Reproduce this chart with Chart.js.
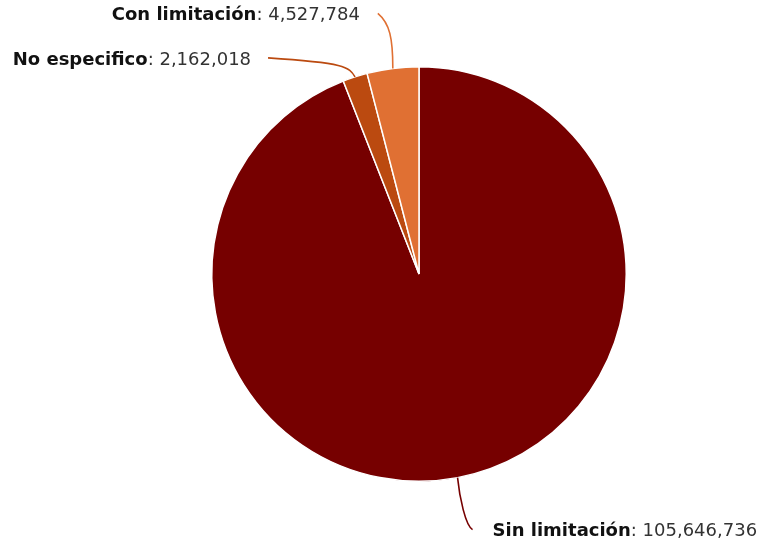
<!DOCTYPE html>
<html>
<head>
<meta charset="utf-8">
<script src="https://cdn.jsdelivr.net/npm/chart.js@4"></script>
<style>
  html, body { margin: 0; padding: 0; background: #fff; }
  #wrap { width: 761px; height: 546px; }
</style>
</head>
<body>
<div id="wrap"><canvas id="pieChart"></canvas></div>
<script>
const categories = ['Sin limitación', 'No especifico', 'Con limitación'];
const values = [105646736, 2162018, 4527784];
const sliceColors = ['#760000', '#bb4a10', '#e07033'];

// where each label sits relative to its slice edge, and how the connector bends
const labelLayout = [
    { dx: 35, dy: 54, align: 'left', c1: [2, 20], c2: [8, 48], end: [15, 52] },
    { dx: -104, dy: -17, align: 'right', c1: [-6, -10], c2: [-10, -14], end: [-87, -19] },
    { dx: -33, dy: -53, align: 'right', c1: [0, -30], c2: [-3, -45], end: [-15, -55] }
];

const fmt = n => n.toLocaleString('en-US');

const leaderLabels = {
    id: 'leaderLabels',
    afterDatasetsDraw(chart) {
        const ctx = chart.ctx;
        const arcs = chart.getDatasetMeta(0).data;
        arcs.forEach(function (arc, i) {
            const p = arc.getProps(['x', 'y', 'startAngle', 'endAngle', 'outerRadius'], true);
            const mid = (p.startAngle + p.endAngle) / 2;
            const ax = p.x + Math.cos(mid) * p.outerRadius;
            const ay = p.y + Math.sin(mid) * p.outerRadius;
            const lay = labelLayout[i];

            ctx.save();
            ctx.strokeStyle = sliceColors[i];
            ctx.lineWidth = 1.6;
            ctx.beginPath();
            ctx.moveTo(ax, ay);
            ctx.bezierCurveTo(ax + lay.c1[0], ay + lay.c1[1], ax + lay.c2[0], ay + lay.c2[1], ax + lay.end[0], ay + lay.end[1]);
            ctx.stroke();

            const tx = ax + lay.dx;
            const ty = ay + lay.dy;
            const name = categories[i];
            const val = ': ' + fmt(values[i]);
            const boldFont = 'bold 18px "DejaVu Sans"';
            const normFont = '18px "DejaVu Sans"';
            ctx.font = boldFont;
            const wName = ctx.measureText(name).width;
            ctx.font = normFont;
            const wVal = ctx.measureText(val).width;
            const x0 = lay.align === 'right' ? tx - wName - wVal : tx;
            ctx.textBaseline = 'middle';
            ctx.textAlign = 'left';
            ctx.fillStyle = '#111';
            ctx.font = boldFont;
            ctx.fillText(name, x0, ty);
            ctx.fillStyle = '#333';
            ctx.font = normFont;
            ctx.fillText(val, x0 + wName, ty);
            ctx.restore();
        });
    }
};

new Chart(document.getElementById('pieChart').getContext('2d'), {
    type: 'pie',
    data: {
        labels: categories,
        datasets: [{
            data: values,
            backgroundColor: sliceColors,
            borderColor: '#ffffff',
            borderWidth: 1.5
        }]
    },
    options: {
        responsive: true,
        maintainAspectRatio: false,
        animation: false,
        layout: { padding: { top: 66, bottom: 64, left: 211, right: 134 } },
        plugins: {
            legend: { display: false },
            tooltip: { enabled: false }
        }
    },
    plugins: [leaderLabels]
});
</script>
</body>
</html>
